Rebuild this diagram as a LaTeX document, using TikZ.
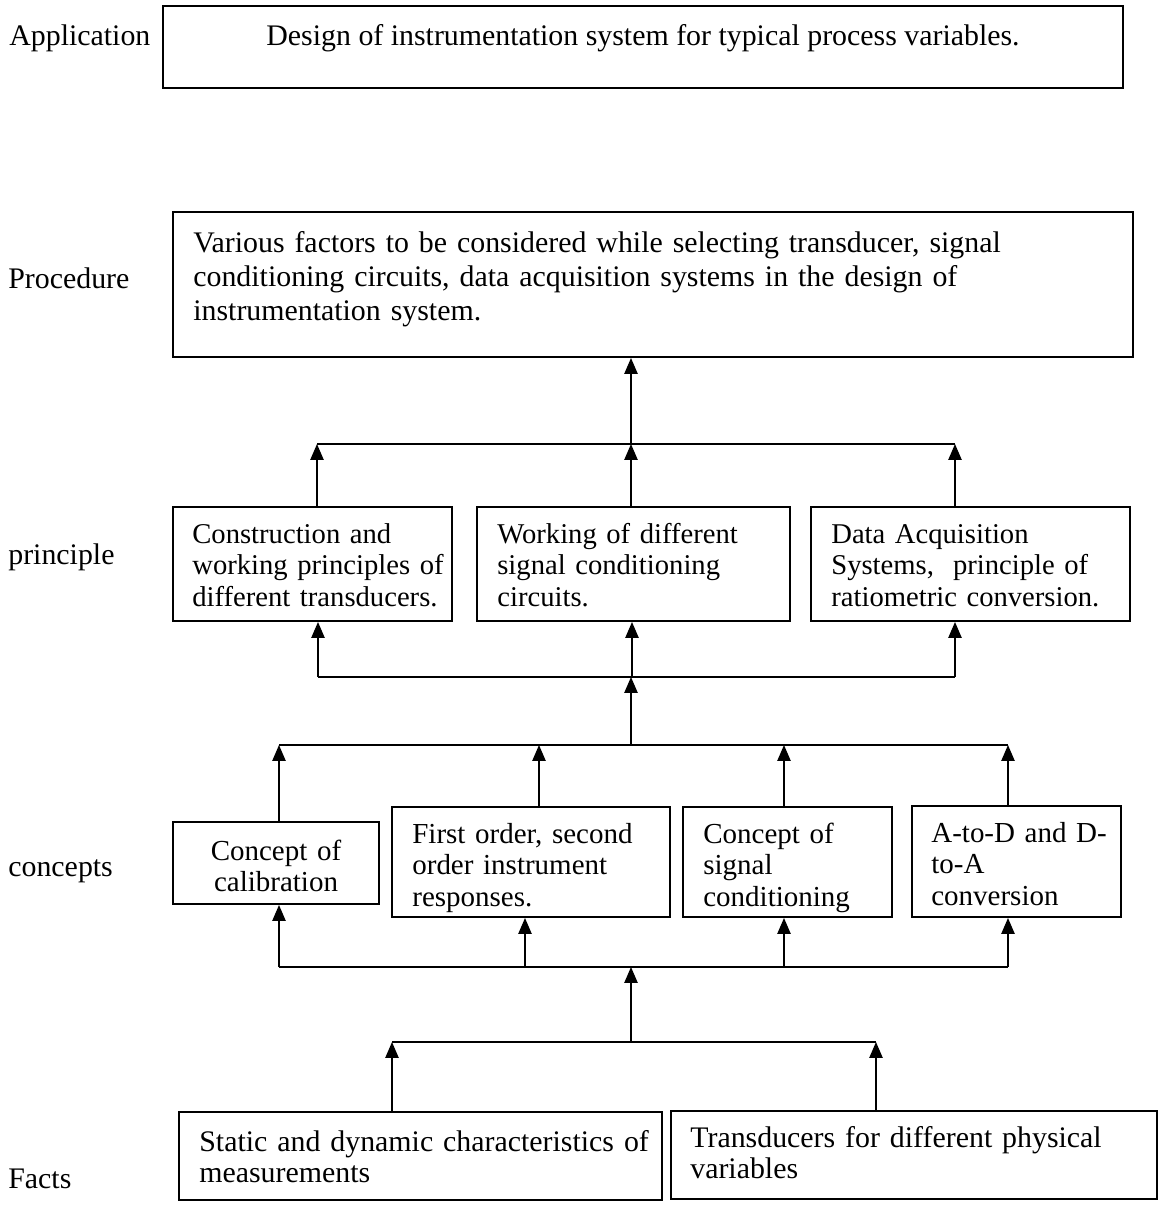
\documentclass[tikz,border=0pt]{standalone}
\usepackage{fontspec}
\setmainfont{Liberation Serif}
\usetikzlibrary{arrows.meta,fit}
\begin{document}
\begin{tikzpicture}[x=0.02cm,y=-0.02cm,
  box/.style={draw,line width=1.1pt,rectangle,inner sep=0pt},
  txt/.style={inner sep=0pt,anchor=base west,align=left,text width=#1},
  txt/.default=12cm,
  lbl/.style={inner sep=0pt,anchor=base west},
  bus/.style={line width=0.9pt},
  arr/.style={line width=0.9pt,-{Triangle[length=9pt,width=7.5pt]}},
  font=\fontsize{17}{19.6}\selectfont]
\useasboundingbox (0,0) rectangle (1158,1205);

% side labels
\node[lbl] (lApp) at (9,45) {Application};
\node[lbl] (lPro) at (8,288) {Procedure};
\node[lbl] (lPri) at (8,564) {principle};
\node[lbl] (lCon) at (8,876) {concepts};
\node[lbl] (lFac) at (8,1188) {Facts};

% application
\node[box,fit={(163,6) (1123,88)}] (app) {};
\node[anchor=base,inner sep=0pt] (appT) at (643,45) {Design of instrumentation system for typical process variables.};

% procedure
\node[box,fit={(173,212) (1133,357)}] (proc) {};
\node[txt=17cm] (procT) at (193,252) {Various factors to be considered while selecting transducer, signal\\conditioning circuits, data acquisition systems in the design of\\instrumentation system.};

% principle
\node[box,fit={(173,507) (452,621)}] (p1) {};
\node[box,fit={(477,507) (790,621)}] (p2) {};
\node[box,fit={(811,507) (1130,621)}] (p3) {};
\begin{scope}[font=\fontsize{16.3}{18.1}\selectfont]
\node[txt] (p1T) at (192,543) {Construction and\\working principles of\\different transducers.};
\node[txt] (p2T) at (497,543) {Working of different\\signal conditioning\\circuits.};
\node[txt] (p3T) at (831,543) {Data Acquisition\\Systems,\ \ principle of\\ratiometric conversion.};
\end{scope}

% concepts
\node[box,fit={(173,822) (379,904)}] (c1) {};
\node[box,fit={(392,807) (670,917)}] (c2) {};
\node[box,fit={(683,807) (892,917)}] (c3) {};
\node[box,fit={(912,806) (1121,917)}] (c4) {};
\begin{scope}[font=\fontsize{16.5}{18.1}\selectfont]
\node[inner sep=0pt,anchor=base,align=center,text width=4cm] (c1T) at (276,860) {Concept of\\calibration};
\node[txt] (c2T) at (412,843) {First order, second\\order instrument\\responses.};
\begin{scope}
\clip (c3.north west) rectangle ([yshift=0.5pt]c3.south east);
\node[txt] (c3T) at (703,843) {Concept of\\signal\\conditioning};
\end{scope}
\node[txt] (c4T) at (931,842) {A-to-D and D-\\to-A\\conversion};
\end{scope}

% facts
\node[box,fit={(179,1112) (662,1200)}] (f1) {};
\node[box,fit={(671,1111) (1157,1199)}] (f2) {};
\begin{scope}[font=\fontsize{17}{18.1}\selectfont]
\node[txt] (f1T) at (199,1151) {Static and dynamic characteristics of\\measurements};
\node[txt] (f2T) at (690,1147) {Transducers for different physical\\variables};
\end{scope}

% bus coordinates
\coordinate (pu1) at (317,444);
\coordinate (pu2) at (631,444);
\coordinate (pu3) at (955,444);
\coordinate (pl1) at (318,677);
\coordinate (pl2) at (632,677);
\coordinate (pl3) at (955,677);
\coordinate (cu1) at (279,745);
\coordinate (cu2) at (539,745);
\coordinate (cuM) at (631,745);
\coordinate (cu3) at (784,745);
\coordinate (cu4) at (1008,745);
\coordinate (cl1) at (279,967);
\coordinate (cl2) at (525,967);
\coordinate (clM) at (631,967);
\coordinate (cl3) at (784,967);
\coordinate (cl4) at (1008,967);
\coordinate (fu1) at (392,1042);
\coordinate (fuM) at (631,1042);
\coordinate (fu2) at (876,1042);

% principle -> procedure
\draw[bus] (pu1) -- (pu3);
\draw[arr] (pu2) -- (pu2 |- proc.south);
\draw[arr] (pu1 |- p1.north) -- (pu1);
\draw[arr] (pu2 |- p2.north) -- (pu2);
\draw[arr] (pu3 |- p3.north) -- (pu3);

% concepts -> principle
\draw[bus] (pl1) -- (pl3);
\draw[arr] (pl1) -- (pl1 |- p1.south);
\draw[arr] (pl2) -- (pl2 |- p2.south);
\draw[arr] (pl3) -- (pl3 |- p3.south);
\draw[arr] (cuM) -- (cuM |- pl2);
\draw[bus] (cu1) -- (cu4);
\draw[arr] (cu1 |- c1.north) -- (cu1);
\draw[arr] (cu2 |- c2.north) -- (cu2);
\draw[arr] (cu3 |- c3.north) -- (cu3);
\draw[arr] (cu4 |- c4.north) -- (cu4);

% facts -> concepts
\draw[bus] (cl1) -- (cl4);
\draw[arr] (cl1) -- (cl1 |- c1.south);
\draw[arr] (cl2) -- (cl2 |- c2.south);
\draw[arr] (cl3) -- (cl3 |- c3.south);
\draw[arr] (cl4) -- (cl4 |- c4.south);
\draw[arr] (fuM) -- (clM);
\draw[bus] (fu1) -- (fu2);
\draw[arr] (fu1 |- f1.north) -- (fu1);
\draw[arr] (fu2 |- f2.north) -- (fu2);
\end{tikzpicture}
\end{document}
